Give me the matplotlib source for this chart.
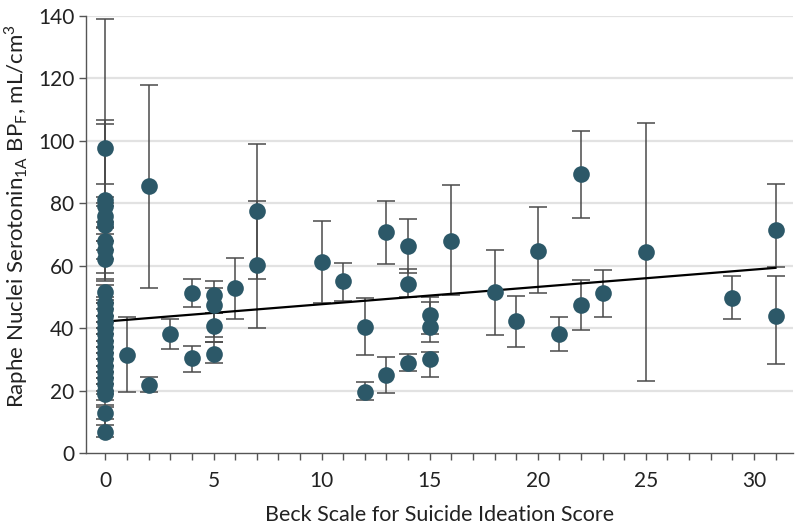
import matplotlib
matplotlib.use('Agg')
import matplotlib.pyplot as plt
import numpy as np

# Beck Scale score, point value, lower and upper error bar ends
score = [0, 0, 0, 0, 0, 0, 0, 0, 0, 0,
         0, 0, 0, 0, 0, 0, 0, 0, 0, 0, 0, 0, 0, 0, 0, 0,
         0, 0,
         1, 2, 2, 3, 4, 4, 5, 5, 5, 5, 6, 7, 7,
         10, 11, 12, 12, 13, 13, 14, 14, 14, 15, 15, 15, 16,
         18, 19, 20, 21, 22, 22, 23, 25, 29, 31, 31]
bp = [97.6, 81, 79, 76, 74, 73, 68, 65, 62, 51.7,
      48, 46, 44, 42, 40, 38, 36, 34, 32, 30, 28, 26, 24, 22, 20, 19,
      12.7, 6.8,
      31.4, 85.5, 21.8, 38.1, 51.2, 30.3, 50.6, 47.4, 40.7, 31.7, 52.8, 77.5, 60.2,
      61.3, 55.1, 40.5, 19.4, 70.7, 25.0, 66.3, 54.2, 28.9, 44.2, 40.5, 30.0, 68.0,
      51.7, 42.4, 64.8, 38.1, 89.4, 47.4, 51.4, 64.5, 49.6, 71.4, 43.9]
lo = [86.2, 57.6, 72.5, 70, 68, 65, 62, 55.6, 55.2, 48,
      44, 42, 40, 38, 36, 34, 32, 30, 28, 26, 24, 22, 20, 19, 17, 15.5,
      9.0, 5.0,
      19.5, 52.8, 19.5, 33.3, 46.9, 26.1, 45.0, 37.3, 35.5, 28.9, 43.0, 55.7, 40.0,
      48.2, 48.8, 31.4, 17.0, 60.5, 19.1, 57.8, 50.0, 26.4, 38.1, 35.4, 24.5, 50.5,
      37.8, 33.9, 51.4, 32.8, 75.4, 39.4, 43.5, 23.1, 42.9, 59.7, 28.5]
hi = [106.5, 139, 105.5, 82, 80, 79, 74, 72, 68, 53.8,
      49, 50, 48, 46, 44, 42, 40, 38, 36, 34, 32, 30, 28, 26, 24, 22,
      14.6, 10.8,
      43.7, 118, 24.5, 43.0, 55.6, 34.4, 55.1, 53.0, 45.0, 35.5, 62.4, 98.8, 80.8,
      74.4, 61.0, 49.8, 22.6, 80.8, 30.9, 75.0, 59.0, 31.7, 49.9, 48.5, 32.5, 85.9,
      65.0, 50.4, 78.7, 43.7, 103.2, 55.4, 58.6, 105.8, 56.8, 86.1, 56.8]

# regression line end points
fit_x = [0, 31]
fit_y = [42.1, 59.3]

plt.rcParams['font.family'] = ['Lato', 'DejaVu Sans']
plt.rcParams['mathtext.fontset'] = 'custom'
plt.rcParams['mathtext.rm'] = 'Lato'

fig = plt.figure(figsize=(8, 5.28), dpi=100)
ax = fig.add_axes([0.1075, 0.142, 0.8835, 0.828])

x = np.array(score, dtype=float)
y = np.array(bp)
yerr = np.vstack([y - np.array(lo), np.array(hi) - y])

ax.errorbar(x, y, yerr=yerr, fmt='none', ecolor='#4a4a4a', elinewidth=1.1,
            capsize=6.5, capthick=1.1, zorder=2)
ax.plot(fit_x, fit_y, color='black', lw=1.6, zorder=3)
ax.plot(x, y, 'o', color='#2c5868', markersize=12, markeredgewidth=0, zorder=4)

ax.set_xlim(-0.9, 31.8)
ax.set_ylim(0, 140)
ax.set_xticks(range(0, 31, 5))
ax.set_xticks(range(0, 32), minor=True)
ax.set_yticks(range(0, 141, 20))
for v in range(20, 141, 20):
    ax.axhline(v, color='#e2e2e2', lw=1.6, zorder=0)

for s in ['top', 'right']:
    ax.spines[s].set_visible(False)
for s in ['left', 'bottom']:
    ax.spines[s].set_color('#555555')
    ax.spines[s].set_linewidth(1.0)
ax.tick_params(which='both', direction='out', length=5, width=1.0, color='#555555',
               labelsize=15, labelcolor='#222222')
ax.tick_params(axis='x', pad=8)

ax.set_xlabel('Beck Scale for Suicide Ideation Score', fontsize=15.5, color='#222222', labelpad=10)
ax.set_ylabel(r'Raphe Nuclei Serotonin$_{\mathregular{1A}}$ BP$_{\mathregular{F}}$, mL/cm$^{\mathregular{3}}$',
              fontsize=16, color='#222222')
ax.yaxis.set_label_coords(-0.079, 0.541)

fig.savefig('out.png', dpi=100)
